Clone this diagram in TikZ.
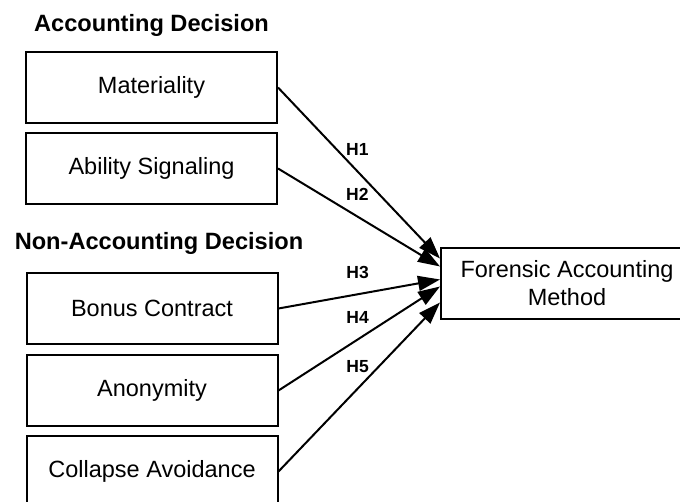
\documentclass[tikz,border=0pt]{standalone}
\usepackage{fontspec}
\setmainfont{Liberation Sans}
\usetikzlibrary{arrows.meta}
\tikzset{
  factor/.style={draw, line width=2pt, minimum width=251pt, minimum height=71pt, inner sep=0pt,
    align=center, font=\fontsize{23.5}{28}\selectfont},
  group/.style={font=\bfseries\fontsize{23.6}{28}\selectfont},
  hyp/.style={line width=2pt, -{Triangle[length=22pt,width=15pt]}},
  hlabel/.style={font=\bfseries\fontsize{17.5}{20}\selectfont, inner sep=0pt, pos=.49, above=15pt}
}
\begin{document}
\begin{tikzpicture}[x=1pt,y=1pt]
	    \clip (0,0) rectangle (680,502);
	    \node[group] (acc) at (151.5,477) {Accounting Decision};
	    \node[factor] (mat) at (151.5,414.5) {Materiality};
	    \node[factor] (abil) at (151.5,333.5) {Ability Signaling};
	    \node[group] (nonacc) at (159,259) {Non-Accounting Decision};
	    \node[factor] (bonus) at (152,193.5) {Bonus Contract};
	    \node[factor] (anon) at (152,111.5) {Anonymity};
	    \node[factor] (coll) at (152,30.5) {Collapse Avoidance};
	    \node[factor, minimum width=252pt] (fam) at (567,218.5) {Forensic Accounting\\Method};
	    \draw[hyp] (mat.east) -- ([yshift=25pt]fam.west) node[hlabel] {H1};
	    \draw[hyp] (abil.east) -- ([yshift=17pt]fam.west) node[hlabel] {H2};
	    \draw[hyp] (bonus.east) -- ([yshift=4pt]fam.west) node[hlabel] {H3};
	    \draw[hyp] (anon.east) -- ([yshift=-3pt]fam.west) node[hlabel] {H4};
	    \draw[hyp] (coll.east) -- ([yshift=-19pt]fam.west) node[hlabel] {H5};
	\end{tikzpicture}
\end{document}
